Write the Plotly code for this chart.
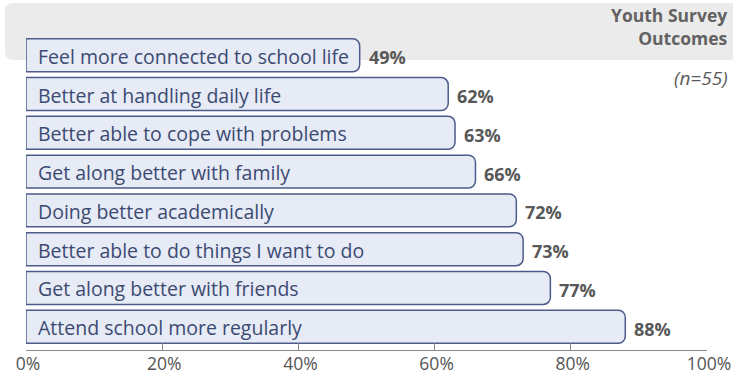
import plotly.graph_objects as go

categories = [
    "Feel more connected to school life",
    "Better at handling daily life",
    "Better able to cope with problems",
    "Get along better with family",
    "Doing better academically",
    "Better able to do things I want to do",
    "Get along better with friends",
    "Attend school more regularly",
]
values = [49, 62, 63, 66, 72, 73, 77, 88]
tick_vals = [0, 20, 40, 60, 80, 100]
tick_text = ["0%", "20%", "40%", "60%", "80%", "100%"]

# bottom-to-top order for plotting
cats_plot = categories[::-1]
vals_plot = values[::-1]

FONT = "Open Sans"
W, H = 733, 375
ML, MR, MT, MB = 26, 26, 32, 25
pw = W - ML - MR
ph = H - MT - MB

fig = go.Figure()
fig.add_trace(go.Bar(
    x=vals_plot, y=cats_plot, orientation="h",
    marker=dict(color="#e6ebf6", line=dict(color="#4d5b8a", width=1.5), cornerradius=7),
    width=0.85, hoverinfo="skip",
))

annotations = []
for c, v in zip(cats_plot, vals_plot):
    annotations.append(dict(x=0, y=c, xref="x", yref="y", text=c, showarrow=False,
                            xanchor="left", xshift=10, yshift=-1,
                            font=dict(family=FONT, size=19.5, color="#3c4a72")))
    annotations.append(dict(x=v, y=c, xref="x", yref="y", text="<b>%d%%</b>" % v, showarrow=False,
                            xanchor="left", xshift=7, yshift=-2,
                            font=dict(family=FONT, size=18, color="#585858")))

annotations.append(dict(x=(730 - ML) / pw, y=(H - MB - 1) / ph, xref="paper", yref="paper",
                        text="<b>Youth Survey<br>Outcomes</b>", showarrow=False,
                        xanchor="right", yanchor="top", align="right",
                        font=dict(family=FONT, size=17.5, color="#626262")))
annotations.append(dict(x=(730 - ML) / pw, y=(H - MB - 78) / ph, xref="paper", yref="paper",
                        text="<i>(n=55)</i>", showarrow=False,
                        xanchor="right", yanchor="middle", align="right",
                        font=dict(family=FONT, size=19, color="#5a5a5a")))

# gray band with rounded left corners (paper coords)
def px2x(px):
    return (px - ML) / pw

def py2y(py):
    return (H - MB - py) / ph

x0, x1 = px2x(5), px2x(740)
y0, y1 = py2y(60), py2y(3)
rx, ry = 8 / pw, 8 / ph
path = (f"M {x1},{y1} L {x0+rx},{y1} Q {x0},{y1} {x0},{y1-ry} "
        f"L {x0},{y0+ry} Q {x0},{y0} {x0+rx},{y0} L {x1},{y0} Z")

fig.update_layout(
    width=W, height=H,
    margin=dict(l=ML, r=MR, t=MT, b=MB),
    paper_bgcolor="white", plot_bgcolor="rgba(0,0,0,0)",
    showlegend=False,
    annotations=annotations,
    shapes=[dict(type="path", path=path, xref="paper", yref="paper",
                 fillcolor="#ebebeb", line=dict(width=0), layer="below")],
    xaxis=dict(range=[0, 100], tickvals=tick_vals, ticktext=tick_text,
               showgrid=False, zeroline=False, showline=True, linecolor="#8a8a8a", linewidth=1,
               ticks="inside", ticklen=7, tickcolor="#8a8a8a", tickwidth=1,
               ticklabelshift=2, ticklabelstandoff=-2, ticklabeloverflow="allow",
               automargin=False,
               tickfont=dict(family=FONT, size=17.5, color="#555555")),
    yaxis=dict(range=[-0.6, 7.6], showticklabels=False, showgrid=False, zeroline=False,
               showline=False, ticks="", automargin=False),
)

fig.write_html("out.html")
